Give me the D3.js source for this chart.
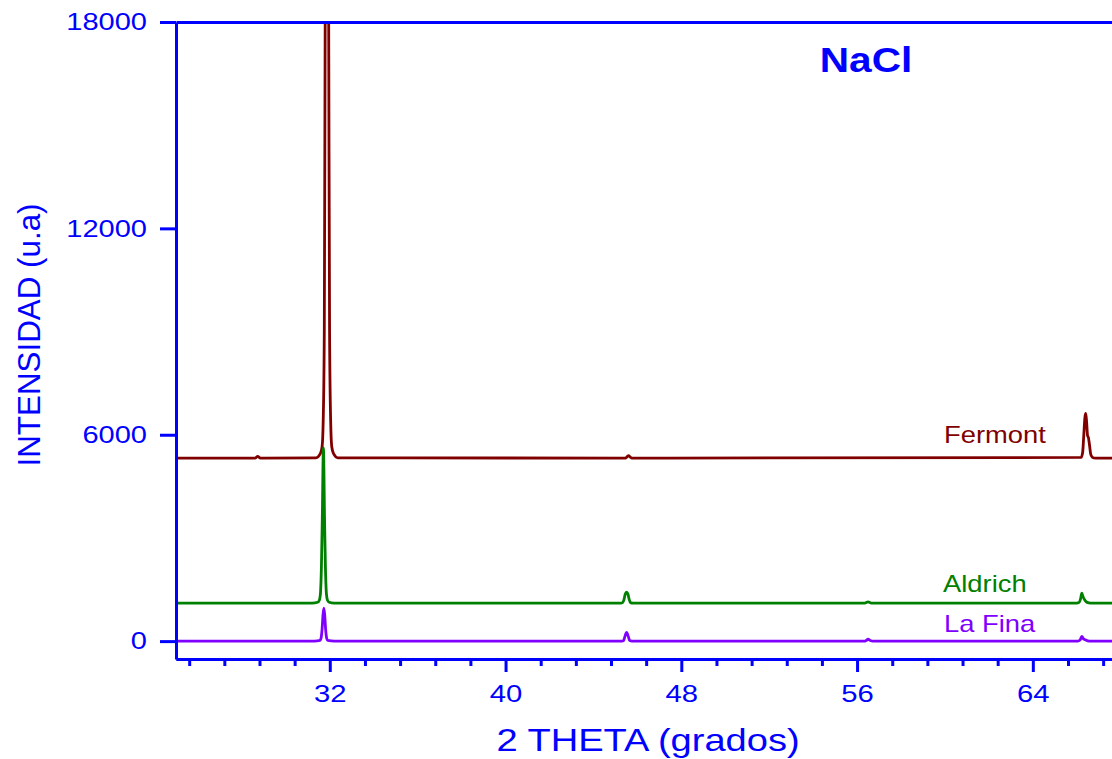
<!DOCTYPE html>
<html>
<head>
<meta charset="utf-8">
<script src="https://cdn.jsdelivr.net/npm/d3@7"></script>
<style>
  body { margin: 0; background: #fff; }
  svg { display: block; font-family: "Liberation Sans", Arial, sans-serif; }
</style>
</head>
<body>
<div id="chart"></div>
<script>
// XRD patterns of NaCl samples, [2theta, counts]
var fermont = [
  [25, 5320], [28.6, 5320], [28.72, 5370], [28.84, 5320],
  [31.37, 5330], [31.57, 5450], [31.65, 5650], [31.7, 6400], [31.75, 9000], [31.79, 18000],
  [31.87, 28000], [31.95, 18000], [31.99, 9000], [32.04, 6400], [32.09, 5650], [32.17, 5450], [32.37, 5330],
  [45.45, 5320], [45.55, 5370], [45.6, 5390], [45.66, 5360], [45.75, 5320],
  [66.2, 5340], [66.27, 5500], [66.32, 6000], [66.37, 6500], [66.41, 6620], [66.45, 6350], [66.49, 5980],
  [66.53, 5920], [66.58, 5700], [66.64, 5420], [66.72, 5340], [66.85, 5320], [68, 5320]
];
var aldrich = [
  [25, 1105], [31.2, 1105], [31.45, 1130], [31.52, 1180], [31.57, 1350], [31.62, 2200], [31.66, 3600],
  [31.71, 5620], [31.76, 3600], [31.8, 2200], [31.85, 1350], [31.9, 1180], [31.97, 1130], [32.2, 1105],
  [45.25, 1105], [45.33, 1120], [45.4, 1230], [45.45, 1370], [45.51, 1425], [45.57, 1370], [45.62, 1230],
  [45.69, 1120], [45.8, 1105],
  [56.35, 1105], [56.5, 1140], [56.65, 1105],
  [66.0, 1105], [66.1, 1120], [66.17, 1220], [66.23, 1395], [66.29, 1280], [66.35, 1210], [66.42, 1150],
  [66.55, 1115], [66.7, 1105], [68, 1105]
];
var laFina = [
  [25, 0], [31.3, 0], [31.55, 20], [31.6, 80], [31.65, 350], [31.69, 750], [31.73, 960], [31.77, 750],
  [31.81, 350], [31.86, 80], [31.91, 20], [32.2, 0],
  [45.3, 0], [45.37, 15], [45.43, 130], [45.51, 255], [45.59, 130], [45.65, 15], [45.75, 0],
  [56.3, 0], [56.42, 20], [56.5, 55], [56.6, 20], [56.72, 0],
  [66.05, 0], [66.15, 30], [66.23, 140], [66.3, 70], [66.38, 40], [66.5, 10], [66.65, 0], [68, 0]
];

var seriesNames = ["Fermont", "Aldrich", "La Fina"];
var seriesColors = ["#800000", "#008000", "#8000ff"];
var seriesLabelAt = [[944, 443], [943, 592], [944, 632]];

var xTicks = [32, 40, 48, 56, 64];
var xMinorTicks = [25.6, 27.2, 28.8, 30.4, 33.6, 35.2, 36.8, 38.4, 41.6, 43.2, 44.8, 46.4, 49.6, 51.2,
  52.8, 54.4, 57.6, 59.2, 60.8, 62.4, 65.6, 67.2];
var yTicks = [0, 6000, 12000, 18000];

var W = 1112, H = 759;
var blue = "#0000ff";
var font = "'Liberation Sans', Arial, sans-serif";

var svg = d3.select("#chart").append("svg")
  .attr("width", W)
  .attr("height", H);

var x = d3.scaleLinear().domain([25, 68]).range([176, 176 + 43 * 21.97]);
var y = d3.scaleLinear().domain([-520, 18000]).range([659, 22]);

svg.append("clipPath").attr("id", "plot-clip")
  .append("rect")
  .attr("x", x.range()[0]).attr("y", y.range()[1])
  .attr("width", x.range()[1] - x.range()[0])
  .attr("height", y.range()[0] - y.range()[1]);

var line = d3.line()
  .x(function(d) { return x(d[0]); })
  .y(function(d) { return y(d[1]); })
  .curve(d3.curveMonotoneX);

var plot = svg.append("g").attr("clip-path", "url(#plot-clip)");
[fermont, aldrich, laFina].forEach(function(s, i) {
  plot.append("path")
    .datum(s)
    .attr("fill", "none")
    .attr("stroke", seriesColors[i])
    .attr("stroke-width", 2.8)
    .attr("stroke-linejoin", "round")
    .attr("d", line);
});

// axes
function styleAxis(g) {
  g.attr("font-family", font);
  g.select(".domain").attr("stroke", blue).attr("stroke-width", 3);
  g.selectAll(".tick line").attr("stroke", blue).attr("stroke-width", 3);
  g.selectAll("text").attr("fill", blue);
}

var bottom = svg.append("g")
  .attr("transform", "translate(0," + y.range()[0] + ")")
  .call(d3.axisBottom(x).tickValues(xTicks).tickSize(13).tickSizeOuter(0).tickFormat(d3.format("d")))
  .call(styleAxis);
bottom.selectAll("text")
  .attr("font-size", 24)
  .attr("y", 26)
  .attr("transform", "scale(1.22,1)");

svg.append("g")
  .attr("transform", "translate(0," + y.range()[0] + ")")
  .call(d3.axisBottom(x).tickValues(xMinorTicks).tickSize(7).tickSizeOuter(0).tickFormat(""))
  .call(styleAxis);

var left = svg.append("g")
  .attr("transform", "translate(" + x.range()[0] + ",0)")
  .call(d3.axisLeft(y).tickValues(yTicks).tickSize(16).tickSizeOuter(0).tickFormat(d3.format("d")))
  .call(styleAxis);
left.selectAll("text")
  .attr("font-size", 24)
  .attr("x", -29 / 1.21)
  .attr("transform", "scale(1.21,1)");

svg.append("g")
  .attr("transform", "translate(0," + y.range()[1] + ")")
  .call(d3.axisBottom(x).tickValues(xMinorTicks.concat(xTicks)).tickSize(2).tickSizeOuter(0).tickFormat(""))
  .call(styleAxis);

// titles
function stretchedText(tx, ty, rot, sx, size, txt, color, anchor, weight) {
  svg.append("text")
    .attr("transform", "translate(" + tx + "," + ty + ") rotate(" + rot + ") scale(" + sx + ",1)")
    .attr("text-anchor", anchor)
    .attr("font-family", font)
    .attr("font-size", size)
    .attr("font-weight", weight || "normal")
    .attr("fill", color)
    .text(txt);
}

stretchedText(648, 751, 0, 1.19, 32, "2 THETA (grados)", blue, "middle");
stretchedText(40, 335, -90, 0.98, 32, "INTENSIDAD (u.a)", blue, "middle");
stretchedText(866, 72, 0, 1.16, 35, "NaCl", blue, "middle", "bold");

seriesNames.forEach(function(n, i) {
  stretchedText(seriesLabelAt[i][0], seriesLabelAt[i][1], 0, 1.19, 23, n, seriesColors[i], "start");
});
</script>
</body>
</html>
